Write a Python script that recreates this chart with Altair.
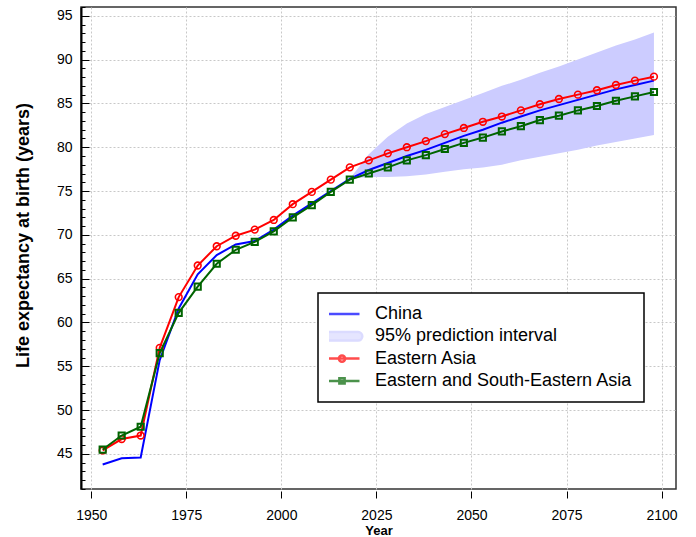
import altair as alt
import pandas as pd

FONT = "Liberation Sans"

# ---------------- data ----------------
years = [1953, 1958, 1963, 1968, 1973, 1978, 1983, 1988, 1993, 1998, 2003, 2008, 2013, 2018,
         2023, 2028, 2033, 2038, 2043, 2048, 2053, 2058, 2063, 2068, 2073, 2078, 2083, 2088, 2093, 2098]
china = [43.8, 44.5, 44.6, 55.7, 61.6, 65.5, 67.7, 68.9, 69.3, 70.6, 72.2, 73.6, 75.0, 76.4,
         77.4, 78.2, 79.0, 79.7, 80.5, 81.3, 82.0, 82.8, 83.5, 84.2, 84.8, 85.4, 86.0, 86.6, 87.1, 87.6]
eastern_asia = [45.4, 46.7, 47.1, 57.1, 62.9, 66.5, 68.7, 69.9, 70.6, 71.7, 73.5, 74.9, 76.3, 77.7,
                78.5, 79.3, 80.0, 80.7, 81.5, 82.2, 82.9, 83.5, 84.2, 84.9, 85.5, 86.0, 86.5, 87.1, 87.6, 88.05]
eastern_se_asia = [45.5, 47.1, 48.1, 56.5, 61.1, 64.1, 66.7, 68.3, 69.2, 70.4, 72.0, 73.4, 74.9, 76.3,
                   77.0, 77.7, 78.5, 79.1, 79.8, 80.5, 81.1, 81.8, 82.4, 83.1, 83.6, 84.2, 84.7, 85.3, 85.8, 86.3]

band_years = [2018, 2023, 2028, 2033, 2038, 2043, 2048, 2053, 2058, 2063, 2068, 2073, 2078, 2083, 2088, 2093, 2098]
band_lower = [76.4, 76.6, 76.6, 76.7, 76.9, 77.2, 77.5, 77.7, 78.0, 78.5, 78.9, 79.3, 79.7, 80.2, 80.6, 81.0, 81.4]
band_upper = [76.4, 79.2, 81.2, 82.7, 83.8, 84.6, 85.4, 86.2, 87.0, 87.7, 88.5, 89.2, 90.0, 90.8, 91.6, 92.3, 93.1]

legend_labels = ["China", "95% prediction interval", "Eastern Asia", "Eastern and South-Eastern Asia"]
x_ticks = [1950, 1975, 2000, 2025, 2050, 2075, 2100]
y_major = [45, 50, 55, 60, 65, 70, 75, 80, 85, 90, 95]
y_minor = list(range(41, 97))

title_text = "Life expectancy at birth (both sexes combined)"

# ---------------- styles ----------------
BLUE = "#0000ff"
RED = "#ff0000"
GREEN = "#006400"
BAND = "#ccccff"
GRID = "#c8c8c8"

df = pd.DataFrame({"year": years, "china": china, "ea": eastern_asia, "esea": eastern_se_asia})
band_df = pd.DataFrame({"year": band_years, "lower": band_lower, "upper": band_upper})

xs = alt.Scale(domain=[1947.3, 2103.8], nice=False, zero=False)
ys = alt.Scale(domain=[41, 96], nice=False, zero=False)

x_axis = alt.Axis(values=x_ticks, format="d", grid=True, gridColor=GRID, gridDash=[2, 2],
                  domain=False, ticks=True, tickSize=7, tickColor="black", offset=2,
                  labelFont=FONT, labelFontSize=14, labelColor="black", labelPadding=10,
                  title="Year", titleFont=FONT, titleFontSize=13, titleFontWeight="bold",
                  titleColor="black", titlePadding=2)

y_axis_main = alt.Axis(values=y_major, orient="left", grid=True, gridColor=GRID, gridDash=[2, 2],
                       ticks=False, domain=True, domainColor="black", domainWidth=2,
                       labelFont=FONT, labelFontSize=14, labelColor="black", labelPadding=9,
                       title="Life expectancy at birth (years)", titleFont=FONT, titleFontSize=18,
                       titleFontWeight="bold", titleColor="black", titlePadding=24, titleY=228)
y_axis_minor = alt.Axis(values=y_minor, orient="left", grid=False, domain=False, labels=False,
                        ticks=True, tickSize={"expr": "-4"}, tickColor="black", tickWidth=1, title=None)
y_axis_major_ticks = alt.Axis(values=y_major, orient="left", grid=False, domain=False, labels=False,
                              ticks=True, tickSize={"expr": "-8"}, tickColor="black", tickWidth=1, title=None)

X = alt.X("year:Q", scale=xs, axis=x_axis)

band = alt.Chart(band_df).mark_area(color=BAND, opacity=1).encode(
    x=X,
    y=alt.Y("lower:Q", scale=ys, axis=y_axis_main),
    y2="upper:Q",
)

china_line = alt.Chart(df).mark_line(color=BLUE, strokeWidth=2).encode(
    x=X,
    y=alt.Y("china:Q", scale=ys, axis=y_axis_minor),
)

ea_line = alt.Chart(df).mark_line(color=RED, strokeWidth=2).encode(
    x=X,
    y=alt.Y("ea:Q", scale=ys, axis=y_axis_major_ticks),
)
ea_pts = alt.Chart(df).mark_point(shape="circle", color=RED, filled=False, size=45, strokeWidth=1.6, opacity=1).encode(
    x=X,
    y=alt.Y("ea:Q", scale=ys, axis=None),
)

esea_line = alt.Chart(df).mark_line(color=GREEN, strokeWidth=2).encode(
    x=X,
    y=alt.Y("esea:Q", scale=ys, axis=None),
)
esea_pts = alt.Chart(df).mark_point(shape="square", color=GREEN, filled=False, size=38, strokeWidth=2, opacity=1).encode(
    x=X,
    y=alt.Y("esea:Q", scale=ys, axis=None),
)

# legend (symbols are custom SVG paths in unit coordinates)
sym_line = "M-1,0H1"
sym_band = "M-0.92,-0.24H0.92A0.24,0.24 0 0 1 0.92,0.24H-0.92A0.24,0.24 0 0 1 -0.92,-0.24Z"
sym_circle = "M-1,0H1M0.18,0A0.18,0.18 0 1,1 -0.18,0A0.18,0.18 0 1,1 0.18,0"
sym_square = "M-1,0H1M-0.15,-0.15H0.15V0.15H-0.15Z"

legend_df = pd.DataFrame({"series": legend_labels})
leg = alt.Legend(title=None)
legend_layer = alt.Chart(legend_df).transform_filter("false").mark_point().encode(
    shape=alt.Shape("series:N", scale=alt.Scale(domain=legend_labels,
                                                range=[sym_line, sym_band, sym_circle, sym_square]), legend=leg),
    stroke=alt.Stroke("series:N", scale=alt.Scale(domain=legend_labels,
                                                  range=[BLUE, BAND, RED, GREEN]), legend=leg),
    fill=alt.Fill("series:N", scale=alt.Scale(domain=legend_labels,
                                              range=["transparent", BAND, "transparent", "transparent"]), legend=leg),
)

chart = alt.layer(
    band, china_line, ea_line, ea_pts, esea_line, esea_pts, legend_layer
).resolve_axis(y="independent").properties(
    width=595, height=482,
    title=alt.TitleParams(text=title_text, frame="group", anchor="middle", baseline="alphabetic",
                          offset=3.5, font=FONT, fontSize=22, fontWeight="bold", color="black"),
    autosize=alt.AutoSizeParams(type="none"),
    padding={"left": 81, "top": 7, "right": 20, "bottom": 48},
).configure_view(
    stroke="#333333", strokeWidth=1.5
).configure_legend(
    orient="none", legendX=237, legendY=286, padding=11, strokeColor="black", strokeWidth=1.5,
    fillColor="white", cornerRadius=0, labelFont=FONT, labelFontSize=18, labelColor="black",
    labelLimit=400, rowPadding=2.3, clipHeight=20, symbolSize=1225, symbolStrokeWidth=2.5,
    symbolOffset=-6, labelOffset=14,
)

chart.save("out.html", embed_options={"renderer": "svg", "actions": False})
